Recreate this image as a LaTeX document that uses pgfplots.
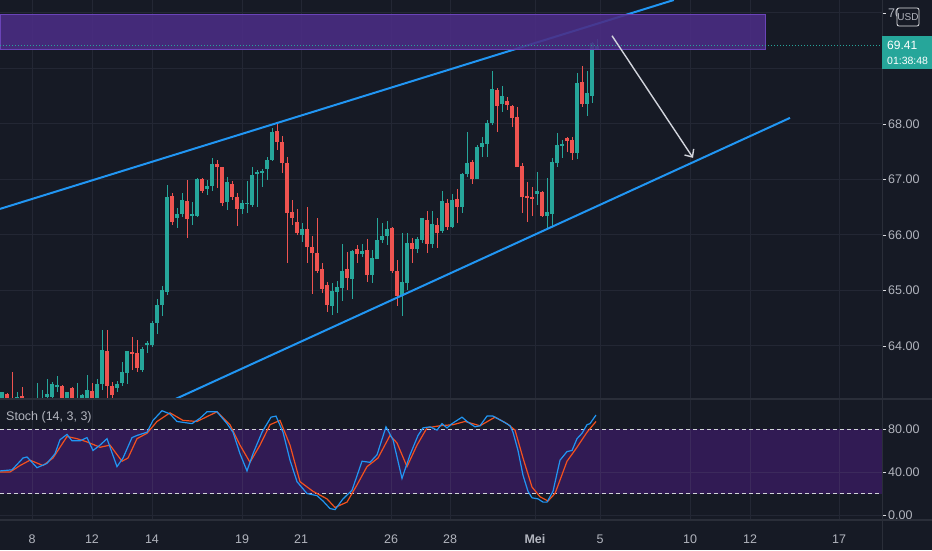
\documentclass[border=0pt]{standalone}
\usepackage{pgfplots}
\pgfplotsset{compat=1.18}
\usepackage{pgfplotstable}
\usepackage{fontspec}
\setmainfont{Liberation Sans}
\usetikzlibrary{arrows.meta}
\definecolor{bg}{HTML}{161A25}
\definecolor{gridc}{HTML}{232734}
\definecolor{sepc}{HTML}{2A2E39}
\definecolor{lbl}{HTML}{B2B5BE}
\definecolor{upc}{HTML}{26A69A}
\definecolor{dnc}{HTML}{EF5350}
\definecolor{trend}{HTML}{2196F3}
\definecolor{boxfill}{HTML}{4B2D85}
\definecolor{boxedge}{HTML}{6A44B8}
\definecolor{band}{HTML}{311B54}
\definecolor{bandgrid}{HTML}{3C2A5C}
\definecolor{kc}{HTML}{2196F3}
\definecolor{dc}{HTML}{F4511E}
\definecolor{arrowc}{HTML}{D1D4DC}
\newcommand\tfont{\fontsize{12.5}{13}\selectfont}

\pgfplotstableread{
x o h l c
2 63.03 63.18 62.95 63.17
7 63.14 63.16 62.80 62.90
12 63.00 63.53 62.70 62.80
17 62.95 63.17 62.85 63.08
22 63.10 63.26 62.80 62.90
27 62.85 63.03 62.70 62.95
32 62.95 63.04 62.80 62.90
37 62.90 63.33 62.80 63.05
42 62.95 63.21 62.90 63.05
47 63.08 63.40 63.00 63.13
52 63.08 63.35 62.98 63.32
57 63.26 63.46 63.17 63.29
62 63.28 63.30 62.95 63.00
67 63.00 63.18 62.95 63.17
72 63.25 63.26 62.90 63.00
77 63.00 63.33 62.90 63.05
82 63.00 63.14 62.95 63.12
87 63.04 63.48 62.98 63.21
92 63.19 63.33 62.98 63.03
97 63.05 63.40 63.00 63.32
102 63.32 64.29 63.21 63.93
107 63.91 64.29 62.95 63.28
112 63.28 63.35 63.00 63.12
117 63.25 63.37 63.18 63.32
122 63.33 63.71 63.28 63.53
127 63.51 63.91 63.31 63.91
132 63.89 64.16 63.57 63.87
137 63.87 64.10 63.53 63.60
142 63.57 63.98 63.53 63.95
147 64.02 64.09 63.87 64.05
152 64.02 64.45 63.98 64.41
157 64.41 64.85 64.22 64.74
162 64.74 65.08 64.54 65.01
167 64.97 66.90 64.92 66.68
172 66.70 66.76 66.18 66.23
177 66.31 66.49 66.13 66.38
182 66.38 66.76 66.32 66.63
187 66.61 66.99 65.95 66.29
192 66.34 66.59 66.18 66.38
197 66.34 67.03 66.32 67.01
202 67.01 67.03 66.76 66.79
207 66.83 66.99 66.72 66.88
212 66.88 67.39 66.79 67.28
217 67.28 67.35 66.85 67.22
222 67.22 67.23 66.52 66.58
227 66.59 67.05 66.45 66.95
232 66.92 66.97 66.63 66.68
237 66.68 66.76 66.16 66.47
242 66.47 66.63 66.38 66.58
247 66.56 66.97 66.40 66.58
252 66.54 67.22 66.50 67.08
257 67.12 67.17 66.50 67.13
262 67.13 67.19 66.87 67.15
267 67.19 67.40 66.99 67.35
272 67.35 67.92 67.33 67.86
277 67.87 68.04 67.53 67.68
282 67.68 67.78 67.12 67.30
287 67.30 67.40 65.50 66.40
292 66.41 66.63 66.18 66.31
297 66.23 66.47 66.00 66.04
302 66.00 66.22 65.88 66.11
307 66.11 66.50 65.49 65.78
312 65.78 65.99 64.94 65.68
317 65.67 66.31 65.31 65.35
322 65.38 65.49 64.95 65.03
327 65.10 65.15 64.61 64.74
332 64.72 65.13 64.56 64.99
337 64.97 65.17 64.60 65.06
342 65.05 65.84 64.81 65.35
347 65.39 65.69 65.01 65.23
352 65.21 65.73 64.85 65.71
357 65.75 65.82 65.49 65.66
362 65.66 65.84 65.60 65.71
367 65.73 65.93 65.15 65.28
372 65.28 65.73 65.14 65.59
377 65.57 66.31 65.57 65.91
382 65.91 66.22 65.86 65.98
387 65.98 66.25 65.82 66.11
392 66.13 66.15 65.32 65.35
397 65.35 65.55 64.72 64.90
402 64.90 66.04 64.54 65.15
407 65.14 66.04 65.01 65.86
412 65.86 65.95 65.49 65.75
417 65.75 65.97 65.68 65.93
422 65.91 66.31 65.86 66.31
427 66.27 66.43 65.68 65.84
432 65.84 66.43 65.77 66.20
437 66.18 66.31 65.77 66.04
442 66.07 66.79 66.04 66.61
447 66.58 66.65 66.09 66.14
452 66.14 66.74 66.13 66.63
457 66.65 66.83 66.22 66.50
462 66.50 67.12 66.40 67.10
467 67.10 67.85 67.04 67.30
472 67.32 67.35 66.92 67.01
477 67.01 67.62 67.00 67.58
482 67.58 67.77 67.40 67.66
487 67.64 68.07 67.40 68.02
492 68.02 68.95 67.98 68.63
497 68.61 68.65 67.86 68.32
502 68.36 68.68 68.22 68.50
507 68.41 68.49 68.25 68.34
512 68.32 68.34 67.95 68.11
517 68.13 68.31 67.22 67.23
522 67.24 67.30 66.39 66.68
527 66.70 66.95 66.23 66.67
532 66.68 66.86 66.34 66.65
537 66.74 67.13 66.54 66.79
542 66.77 66.79 66.32 66.34
547 66.34 67.02 66.11 66.41
552 66.38 67.39 66.16 67.32
557 67.30 67.84 67.22 67.62
562 67.60 67.71 67.39 67.64
567 67.75 67.77 67.49 67.70
572 67.71 67.77 67.35 67.48
577 67.48 68.92 67.37 68.74
582 68.76 69.05 68.31 68.36
587 68.36 68.95 68.14 68.56
592 68.50 69.48 68.38 69.46
597 69.34 69.54 69.33 69.41
}\candles

\pgfplotsset{
  tvaxis/.style={
    scale only axis, width=882pt, xmin=0, xmax=882,
    axis line style={draw=none},
    xtick={32,92,152,242,301,391,450,535,600,690,750,839},
    grid style={gridc, line width=1pt},
    yticklabel pos=right, ytick pos=right,
    tick align=outside, major tick length=4pt,
    xtick style={draw=none}, ytick style={draw=lbl!50, line width=0.8pt},
    yticklabel style={anchor=west, inner sep=0pt, xshift=2pt, font=\tfont, text=lbl,
      /pgf/number format/.cd, fixed, fixed zerofill, precision=2, assume math mode=true},
  },
}

\begin{document}
\begin{tikzpicture}[x=1pt,y=1pt]
\fill[bg] (0,0) rectangle (932,550);

% ---------------- main price pane ----------------
\begin{axis}[tvaxis,
  at={(0pt,151pt)}, anchor=south west, height=399pt,
  ymin=63.045, ymax=70.234,
  ytick={64,65,66,67,68,69,70},
  yticklabels={64.00,65.00,66.00,67.00,68.00,{},70.00},
  xmajorgrids, ymajorgrids,
  xticklabels={},
]
% wicks
\addplot[forget plot, draw=none, mark=none,
  error bars/.cd, y dir=both, y explicit, error mark=none,
  error bar style={draw=upc, line width=1pt}]
  table[x=x, y expr={\thisrow{c}>=\thisrow{o} ? 0.5*(\thisrow{h}+\thisrow{l}) : nan},
        y error expr={0.5*(\thisrow{h}-\thisrow{l})}] {\candles};
\addplot[forget plot, draw=none, mark=none,
  error bars/.cd, y dir=both, y explicit, error mark=none,
  error bar style={draw=dnc, line width=1pt}]
  table[x=x, y expr={\thisrow{c}<\thisrow{o} ? 0.5*(\thisrow{h}+\thisrow{l}) : nan},
        y error expr={0.5*(\thisrow{h}-\thisrow{l})}] {\candles};
% bodies
\addplot[forget plot, draw=none, mark=none,
  error bars/.cd, y dir=both, y explicit, error mark=none,
  error bar style={draw=upc, line width=4pt}]
  table[x=x, y expr={\thisrow{c}>=\thisrow{o} ? 0.5*(\thisrow{o}+\thisrow{c}) : nan},
        y error expr={max(0.5*abs(\thisrow{c}-\thisrow{o}),0.012)}] {\candles};
\addplot[forget plot, draw=none, mark=none,
  error bars/.cd, y dir=both, y explicit, error mark=none,
  error bar style={draw=dnc, line width=4pt}]
  table[x=x, y expr={\thisrow{c}<\thisrow{o} ? 0.5*(\thisrow{o}+\thisrow{c}) : nan},
        y error expr={max(0.5*abs(\thisrow{c}-\thisrow{o}),0.012)}] {\candles};
% trend channel
\addplot[trend, line width=2pt] coordinates {(0,66.47) (673.8,70.234)};
\addplot[trend, line width=2pt] coordinates {(175.5,63.045) (790,68.11)};
% resistance zone
\addplot[fill=boxfill, draw=boxedge, line width=0.8pt, fill opacity=0.88]
  coordinates {(0,69.34) (765,69.34) (765,69.98) (0,69.98)} -- cycle;
% last price line
\addplot[upc, dotted, line width=1pt] coordinates {(0,69.42) (882,69.42)};
% projection arrow
\addplot[arrowc, line width=1.4pt, -{Straight Barb[length=6pt,width=11pt]}]
  coordinates {(612,69.59) (693,67.39)};
\end{axis}

% ---------------- stochastic pane ----------------
\begin{axis}[tvaxis,
  at={(0pt,30pt)}, anchor=south west, height=121pt,
  ymin=-4.65, ymax=107.9,
  ytick={0,40,80},
  xticklabels={8,12,14,19,21,26,28,\textbf{Mei},5,10,12,17},
  xticklabel style={anchor=center, yshift=-15pt, font=\tfont, text=lbl},
]
\addplot[fill=band, draw=none]
  coordinates {(0,20) (882,20) (882,80) (0,80)} -- cycle;
% grid lines over the band
\addplot[gridc, line width=1pt] coordinates {(0,0) (882,0)};
\addplot[bandgrid, line width=1pt] coordinates {(0,40) (882,40)};
\pgfplotsinvokeforeach{32,92,152,242,301,391,450,535,600,690,750,839}{
  \addplot[gridc, line width=1pt] coordinates {(#1,-4.65) (#1,20)};
  \addplot[bandgrid, line width=1pt] coordinates {(#1,20) (#1,80)};
  \addplot[gridc, line width=1pt] coordinates {(#1,80) (#1,107.9)};
}
\addplot[lbl!60, line width=0.8pt, dash pattern=on 4pt off 3pt] coordinates {(0,80) (882,80)};
\addplot[lbl!60, line width=0.8pt, dash pattern=on 4pt off 3pt] coordinates {(0,20) (882,20)};
% %D
\addplot[dc, line width=1.2pt] coordinates {
(0,40)(10,40)(20,46)(30,51)(43,46)(53,53)(67,73)(77,71)(87,68)(100,63)(110,65)(122,50)(128,53)(137,71)(147,76)(157,87)(170,95)(183,88)(197,87)(217,96)(230,84)(240,65)(250,49)(260,65)(270,84)(280,88)(290,65)(300,31)(313,22)(327,15)(335,7)(347,12)(357,28)(367,45)(378,53)(390,74)(397,67)(407,45)(417,65)(427,81)(440,83)(453,84)(465,87)(480,83)(495,91)(507,85)(515,79)(523,53)(532,26)(540,17)(548,13)(555,20)(567,50)(577,63)(587,77)(596,87)};
% %K
\addplot[kc, line width=1.2pt] coordinates {
(0,41)(12,42)(23,53)(27,54)(37,44)(47,48)(55,57)(60,70)(67,75)(72,69)(80,69)(87,72)(93,60)(100,65)(107,71)(117,45)(123,53)(132,72)(137,74)(147,77)(153,88)(162,97)(170,94)(177,87)(192,85)(200,90)(207,96)(217,96)(227,85)(233,77)(240,57)(247,41)(253,57)(262,77)(271,91)(276,92)(283,77)(290,51)(297,31)(307,20)(317,18)(323,13)(330,6)(335,5)(343,15)(352,23)(362,50)(370,49)(377,56)(386,82)(393,70)(402,34)(410,56)(418,74)(423,81)(430,82)(437,79)(442,85)(447,81)(452,85)(462,91)(467,87)(475,82)(480,83)(487,92)(493,92)(503,87)(510,83)(513,77)(518,60)(523,37)(528,22)(532,16)(538,15)(543,12)(547,12)(553,22)(560,51)(567,59)(572,60)(577,71)(582,76)(587,84)(590,85)(596,93)};
\end{axis}

% ---------------- separators and overlays ----------------
\draw[sepc, line width=1.5pt] (0,151) -- (932,151);
\draw[sepc, line width=1.5pt] (0,30) -- (932,30);
\draw[sepc, line width=1pt] (882,0) -- (882,550);
\node[anchor=west, text=lbl, font=\fontsize{12.5}{13}\selectfont, inner sep=0pt] at (6,133) {Stoch (14, 3, 3)};
% last price label
\fill[upc] (882,481) rectangle (932,514);
\node[anchor=west, text=white, font=\fontsize{12}{12}\selectfont, inner sep=0pt] at (887,505) {69.41};
\node[anchor=west, text=white, font=\fontsize{10.5}{11}\selectfont, inner sep=0pt] at (887,489) {01:38:48};
% currency box
\filldraw[fill=bg, draw=lbl!40, rounded corners=2pt, line width=0.8pt] (897,524) rectangle (919,542);
\node[text=lbl, font=\fontsize{10}{10}\selectfont, inner sep=0pt] at (908,533) {USD};
% fix the picture size to exactly 932 x 550
\pgfresetboundingbox
\path[use as bounding box] (0,0) rectangle (932,550);
\end{tikzpicture}
\end{document}
